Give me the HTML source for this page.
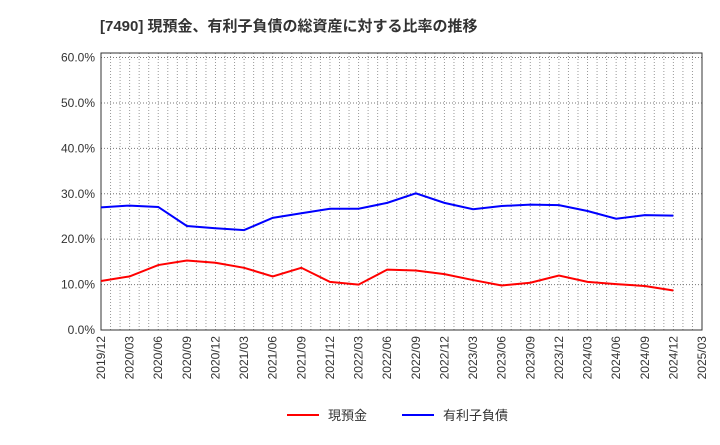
<!DOCTYPE html>
<html><head><meta charset="utf-8"><style>
body{margin:0;background:#fff;font-family:"Liberation Sans","Noto Sans CJK JP",sans-serif;}
</style></head><body>
<svg width="720" height="440" xmlns="http://www.w3.org/2000/svg" style="font-family:'Liberation Sans','Noto Sans CJK JP',sans-serif">
<text x="100" y="31" font-size="15" font-weight="bold" fill="#333">[7490]  現預金、有利子負債の総資産に対する比率の推移</text>
<g id="grid"></g>
<g id="axes"></g>
<g id="series"></g>
<g>
<line x1="287" y1="415" x2="319" y2="415" stroke="#f00" stroke-width="2"/>
<text x="328" y="420" font-size="13" fill="#333">現預金</text>
<line x1="402" y1="415" x2="434" y2="415" stroke="#00f" stroke-width="2"/>
<text x="443" y="420" font-size="13" fill="#333">有利子負債</text>
</g>
</svg>
<script>
const xLabels=["2019/12","2020/03","2020/06","2020/09","2020/12","2021/03","2021/06","2021/09","2021/12","2022/03","2022/06","2022/09","2022/12","2023/03","2023/06","2023/09","2023/12","2024/03","2024/06","2024/09","2024/12","2025/03"];
const yTicks=[0,10,20,30,40,50,60];
const cash=[10.8,11.8,14.3,15.3,14.8,13.7,11.8,13.7,10.6,10.0,13.3,13.1,12.3,11.0,9.8,10.4,12.0,10.6,10.1,9.7,8.7];
const debt=[27.0,27.4,27.1,22.9,22.4,22.0,24.7,25.7,26.7,26.7,28.0,30.1,28.0,26.6,27.3,27.6,27.5,26.2,24.5,25.3,25.2];
const NS="http://www.w3.org/2000/svg";
const L=101,R=702,T=53,B=330,yMax=61;
const step=(R-L)/(xLabels.length-1);
const xs=i=>L+i*step;
const ys=v=>B-(v/yMax)*(B-T);
function mk(p,tag,a){const e=document.createElementNS(NS,tag);for(const k in a)e.setAttribute(k,a[k]);p.appendChild(e);return e;}
const grid=document.getElementById('grid'),axes=document.getElementById('axes'),series=document.getElementById('series');
for(let m=0;m<=(xLabels.length-1)*3;m++){const x=L+m*step/3;
const g=mk(grid,'line',{x1:x,x2:x,y1:T,y2:B,stroke:'#999','stroke-width':1,'stroke-dasharray':'1,2'});

}
yTicks.forEach(v=>{const y=ys(v);
const g=mk(grid,'line',{x1:L,x2:R,y1:y,y2:y,stroke:'#777','stroke-width':1,'stroke-dasharray':'1,2'});


const t=mk(axes,'text',{x:L-6,y:y+4,'text-anchor':'end','font-size':12,fill:'#333'});t.textContent=v.toFixed(1)+'%';

});
const fr=mk(axes,'rect',{x:L,y:T,width:R-L,height:B-T,fill:'none',stroke:'#333','stroke-width':1});


xLabels.forEach((s,i)=>{const x=xs(i);
const t=mk(axes,'text',{x:x+4,y:B+6,'text-anchor':'end','font-size':12,fill:'#333',transform:`rotate(-90 ${x+4} ${B+6})`});t.textContent=s;

});
function line(d,c,n){const p=mk(series,'polyline',{points:d.map((v,i)=>xs(i)+','+ys(v)).join(' '),fill:'none',stroke:c,'stroke-width':2});

}
line(cash,'#f00','cash-line');
line(debt,'#00f','debt-line');
</script>
</body></html>
